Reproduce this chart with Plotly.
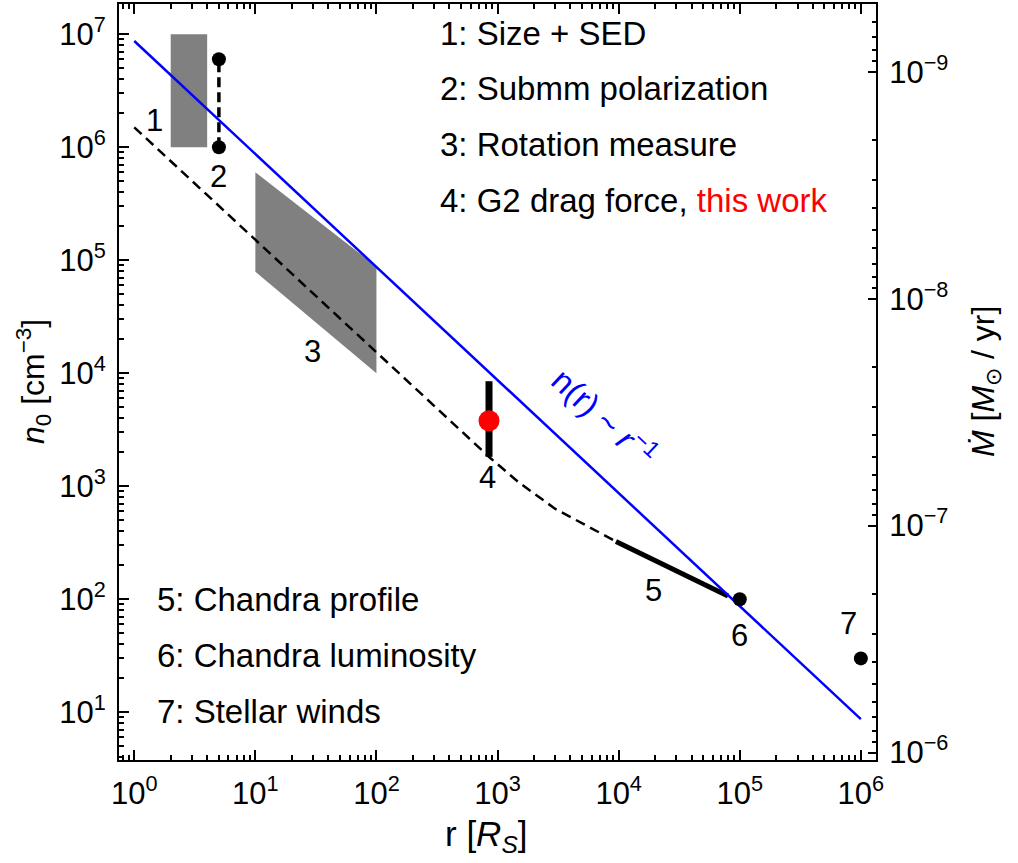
import numpy as np
import plotly.graph_objects as go

# ---------------- data ----------------
rect1_r = [2, 4, 4, 2, 2]
rect1_n = [1e6, 1e6, 1e7, 1e7, 1e6]
polar2_r = [5, 5]
polar2_n = [1.0e6, 6.0e6]
rm3_r = [10, 100, 100, 10, 10]
rm3_n = [6.0e5, 8.8e4, 1.0e4, 7.9e4, 6.0e5]
blue_r = [1, 1e6]
blue_n = [8.7e6, 8.7]
dash_r = [1, 870, 1500, 3000, 9500]
dash_n = [1.5e6, 1.78e3, 1.08e3, 6.3e2, 3.25e2]
g2_r = [850]
g2_n = [3.8e3]
g2_err_n = [1.82e3, 8.5e3]
chandra5_r = [9.5e3, 8.0e4]
chandra5_n = [325, 107]
lum6_r = [1e5]
lum6_n = [100]
wind7_r = [1e6]
wind7_n = [30]

num_labels = ["1", "2", "3", "4", "5", "6", "7"]
num_r = [1.48, 4.94, 29.7, 822, 1.95e4, 1e5, 7.9e5]
num_n = [1.74e6, 5.5e5, 1.57e4, 1.2e3, 120, 48, 61]

legend_top = ["1: Size + SED", "2: Submm polarization", "3: Rotation measure",
              "4: G2 drag force, <span style='color:red'>this work</span>"]
legend_bottom = ["5: Chandra profile", "6: Chandra luminosity", "7: Stellar winds"]

x_ticks = [1, 10, 100, 1e3, 1e4, 1e5, 1e6]
x_ticktext = ["10<sup>%d</sup>" % i for i in range(0, 7)]
y_ticks = [1e1, 1e2, 1e3, 1e4, 1e5, 1e6, 1e7]
y_ticktext = ["10<sup>%d</sup>" % i for i in range(1, 8)]
mdot_ticks = [1e-9, 1e-8, 1e-7, 1e-6]
mdot_ticktext = ["10<sup>\u2212%d</sup>" % i for i in (9, 8, 7, 6)]

FONT = "Liberation Sans, Arial, sans-serif"
TXT = 33
NUM = 31
TICK = 31

fig = go.Figure()

fig.add_trace(go.Scatter(x=rect1_r, y=rect1_n, fill="toself", fillcolor="#808080",
                         line=dict(width=0), mode="lines", hoverinfo="skip"))
fig.add_trace(go.Scatter(x=rm3_r, y=rm3_n, fill="toself", fillcolor="#808080",
                         line=dict(width=0), mode="lines", hoverinfo="skip"))
fig.add_trace(go.Scatter(x=dash_r, y=dash_n, mode="lines",
                         line=dict(color="black", width=2.5, dash="10px,6px")))
fig.add_trace(go.Scatter(x=polar2_r, y=polar2_n, mode="lines+markers",
                         line=dict(color="black", width=3.5, dash="10px,5px"),
                         marker=dict(color="black", size=14)))
fig.add_trace(go.Scatter(x=chandra5_r, y=chandra5_n, mode="lines",
                         line=dict(color="black", width=5)))
fig.add_trace(go.Scatter(x=blue_r, y=blue_n, mode="lines",
                         line=dict(color="#0000ff", width=2.5)))
fig.add_trace(go.Scatter(x=[g2_r[0], g2_r[0]], y=g2_err_n, mode="lines",
                         line=dict(color="black", width=7)))
fig.add_trace(go.Scatter(x=g2_r, y=g2_n, mode="markers",
                         marker=dict(color="#ff0000", size=21)))
fig.add_trace(go.Scatter(x=lum6_r + wind7_r, y=lum6_n + wind7_n, mode="markers",
                         marker=dict(color="black", size=14)))
# dummy trace for right (Mdot) axis
fig.add_trace(go.Scatter(x=[1, 1], y=[1e-9, 1e-6], yaxis="y2", mode="markers",
                         marker=dict(opacity=0), hoverinfo="skip"))

ann = []
for t, r, n in zip(num_labels, num_r, num_n):
    ann.append(dict(x=np.log10(r), y=np.log10(n), xref="x", yref="y", text=t,
                    xanchor="center", yanchor="middle",
                    showarrow=False, font=dict(size=NUM, color="black", family=FONT)))
ann.append(dict(x=np.log10(7.7e3), y=np.log10(4.2e3), xref="x", yref="y",
                xanchor="center", yanchor="middle",
                text="n(r) ~ <i>r</i><sup>\u22121</sup>", textangle=43, showarrow=False,
                font=dict(size=33, color="#0000ff", family=FONT)))
for t, yy in zip(legend_top, [0.961, 0.888, 0.814, 0.740]):
    ann.append(dict(x=0.421, y=yy, xref="paper", yref="paper", text=t, xanchor="left",
                    yanchor="middle", showarrow=False,
                    font=dict(size=TXT, color="black", family=FONT)))
for t, yy in zip(legend_bottom, [0.2128, 0.1382, 0.0637]):
    ann.append(dict(x=0.0476, y=yy, xref="paper", yref="paper", text=t, xanchor="left",
                    yanchor="middle", showarrow=False,
                    font=dict(size=TXT, color="black", family=FONT)))
# axis titles
ann.append(dict(x=0.485, y=-0.1003, xref="paper", yref="paper",
                xanchor="center", yanchor="middle",
                text="r [<i>R<sub>S</sub></i>]", showarrow=False,
                font=dict(size=35, color="black", family=FONT)))
ann.append(dict(x=-0.1136, y=0.5, xref="paper", yref="paper", textangle=-90,
                xanchor="center", yanchor="middle",
                text="<i>n</i><sub>0</sub> [cm<sup>\u22123</sup>]", showarrow=False,
                font=dict(size=32, color="black", family=FONT)))
ann.append(dict(x=1.144, y=0.5, xref="paper", yref="paper", textangle=-90,
                xanchor="center", yanchor="middle",
                text="<i>\u1E40</i> [<i>M</i><sub>\u2299</sub> / yr]", showarrow=False,
                font=dict(size=32, color="black", family=FONT)))


def minor_vals(lo, hi):
    out = []
    for e in range(lo, hi):
        for k in range(2, 10):
            out.append(k * 10.0 ** e)
    return out


fig.update_layout(
    width=1018, height=863,
    margin=dict(l=119, r=142, t=2, b=103),
    paper_bgcolor="white", plot_bgcolor="white",
    showlegend=False,
    font=dict(family=FONT, color="black"),
    annotations=ann,
    xaxis=dict(type="log", range=[-0.126, 6.125], tickvals=x_ticks, ticktext=x_ticktext,
               ticks="inside", ticklen=10, tickwidth=1.5, tickcolor="black",
               showline=True, linecolor="black", linewidth=2, mirror="ticks",
               showgrid=False, zeroline=False, ticklabelstandoff=5,
               tickfont=dict(size=TICK, color="black", family=FONT),
               minor=dict(tickvals=minor_vals(-1, 6), ticks="inside", ticklen=5,
                          tickwidth=1.5, tickcolor="black", showgrid=False)),
    yaxis=dict(type="log", range=[0.578, 7.267], tickvals=y_ticks, ticktext=y_ticktext,
               ticks="inside", ticklen=10, tickwidth=1.5, tickcolor="black",
               showline=True, linecolor="black", linewidth=2, mirror=False,
               showgrid=False, zeroline=False, ticklabelstandoff=5,
               tickfont=dict(size=TICK, color="black", family=FONT),
               minor=dict(tickvals=minor_vals(0, 7), ticks="inside", ticklen=5,
                          tickwidth=1.5, tickcolor="black", showgrid=False)),
    yaxis2=dict(type="log", overlaying="y", side="right", range=[-5.967, -9.299],
                tickvals=mdot_ticks, ticktext=mdot_ticktext,
                ticks="inside", ticklen=8, tickwidth=1.5, tickcolor="black",
                showline=True, linecolor="black", linewidth=2,
                showgrid=False, zeroline=False, ticklabelstandoff=5,
                tickfont=dict(size=TICK, color="black", family=FONT),
                minor=dict(tickvals=minor_vals(-10, -6), ticks="inside", ticklen=4,
                           tickwidth=1.5, tickcolor="black", showgrid=False)),
)

fig.write_html("out.html")
